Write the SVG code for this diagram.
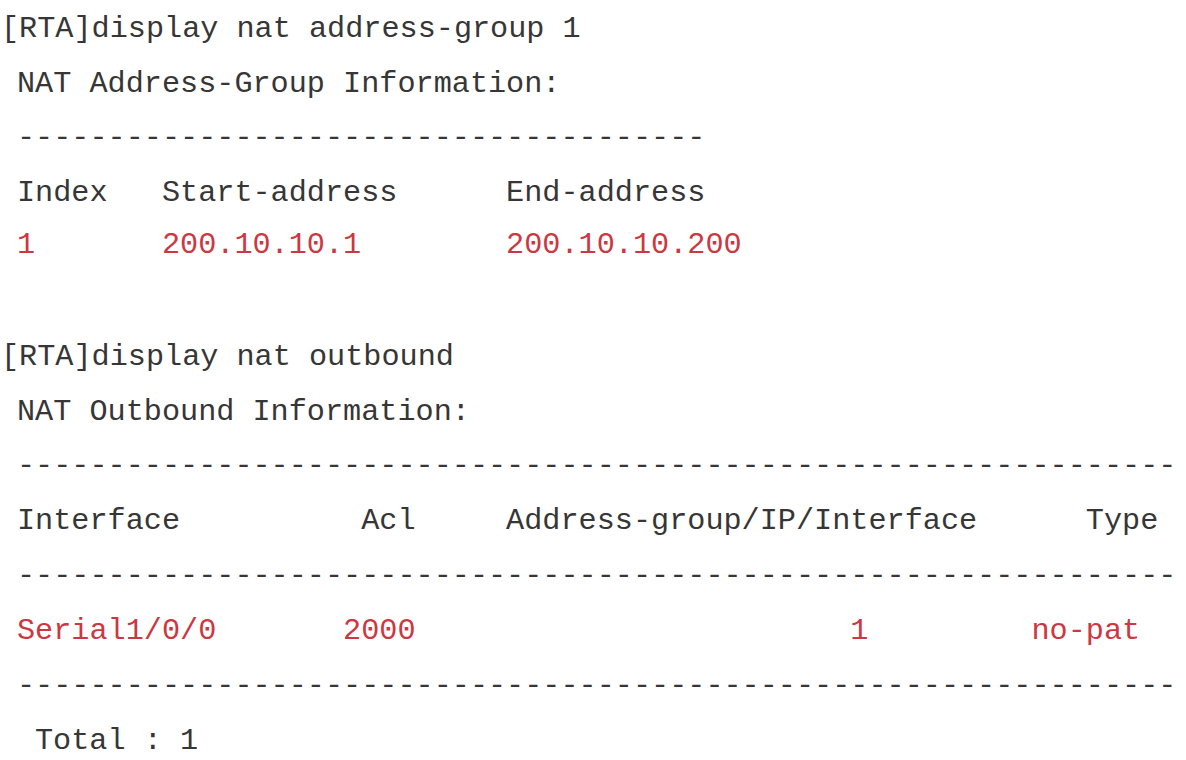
<svg xmlns="http://www.w3.org/2000/svg" width="1186" height="760" viewBox="0 0 1186 760">
<style>
text{font-family:"Liberation Mono","Courier New",monospace;font-size:30.2px;white-space:pre;fill:#363636}
.r{fill:#cc3842}
</style>
<rect width="1186" height="760" fill="#ffffff"/>
<g id="addr-group">
<text x="1" y="37">[RTA]display nat address-group 1</text>
<text x="17" y="92">NAT Address-Group Information:</text>
<text x="17" y="146">--------------------------------------</text>
<text x="17" y="201">Index   Start-address      End-address</text>
<text x="17" y="253" class="r">1       200.10.10.1        200.10.10.200</text>
</g>
<g id="outbound">
<text x="1" y="365">[RTA]display nat outbound</text>
<text x="17" y="420">NAT Outbound Information:</text>
<text x="17" y="474">----------------------------------------------------------------</text>
<text x="17" y="529">Interface          Acl     Address-group/IP/Interface      Type</text>
<text x="17" y="584">----------------------------------------------------------------</text>
<text x="17" y="639" class="r">Serial1/0/0       2000                        1         no-pat</text>
<text x="17" y="694">----------------------------------------------------------------</text>
<text x="35" y="749">Total : 1</text>
</g>
</svg>
